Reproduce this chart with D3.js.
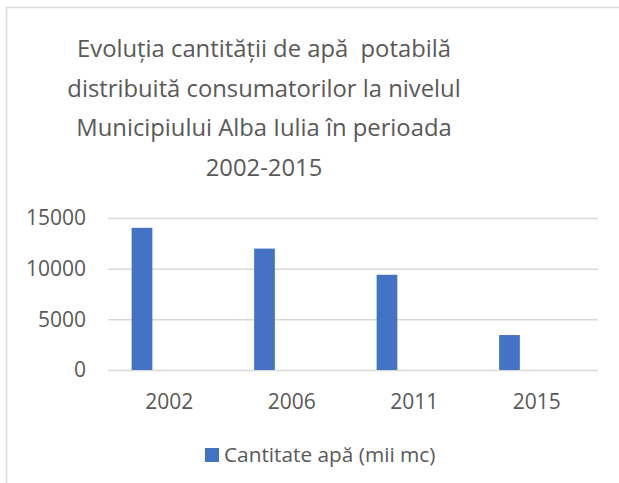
<!DOCTYPE html>
<html>
<head>
<meta charset="utf-8">
<script src="https://cdn.jsdelivr.net/npm/d3@7"></script>
<style>
  html, body { margin: 0; padding: 0; background: #fff; }
  svg { display: block; }
  text { font-family: "Open Sans", "Noto Sans", sans-serif; fill: #595959; }
</style>
</head>
<body>
<svg id="chart" width="619" height="483"></svg>
<script>
// Apă potabilă distribuită, Alba Iulia (mii mc)
const years = ["2002", "2006", "2011", "2015"];
const waterValues = [14030, 11980, 9400, 3450];
const seriesName = "Cantitate apă (mii mc)";
const yTicks = [0, 5000, 10000, 15000];
const titleLines = [
  "Evoluția cantității de apă  potabilă",
  "distribuită consumatorilor la nivelul",
  "Municipiului Alba Iulia în perioada",
  "2002-2015"
];

const W = 619, H = 483;
const svg = d3.select("#chart");
const margin = { left: 108, right: 21, top: 218, bottom: 113 };
const plotW = W - margin.left - margin.right;
const plotH = H - margin.top - margin.bottom;

// chart frame (top and left edges)
svg.append("line").attr("x1", 6.5).attr("x2", W).attr("y1", 7.5).attr("y2", 7.5)
  .attr("stroke", "#d9d9d9").attr("stroke-width", 1.5);
svg.append("line").attr("x1", 6.5).attr("x2", 6.5).attr("y1", 7.5).attr("y2", H)
  .attr("stroke", "#d9d9d9").attr("stroke-width", 1.5);

// title
const title = svg.append("text")
  .attr("text-anchor", "middle")
  .style("font-size", "23.8px");
titleLines.forEach((line, i) => {
  title.append("tspan")
    .attr("x", 264)
    .attr("y", 57 + i * 39.5)
    .attr("xml:space", "preserve")
    .text(line);
});

const g = svg.append("g").attr("transform", `translate(${margin.left},${margin.top})`);

const x = d3.scaleBand().domain(years).range([0, plotW]);
const y = d3.scaleLinear().domain([0, 15000]).range([plotH, 0]);

// gridlines and y labels
const yAxis = d3.axisLeft(y).tickValues(yTicks).tickSize(-plotW).tickPadding(22).tickFormat(d3.format("d"));
const ya = g.append("g").call(yAxis);
ya.select(".domain").remove();
ya.selectAll(".tick line").attr("stroke", "#d9d9d9").attr("stroke-width", 1.5);
ya.selectAll(".tick text").style("font-size", "21px").attr("fill", "#595959");

// x labels
const xAxis = d3.axisBottom(x).tickSize(0).tickPadding(24);
const xa = g.append("g").attr("transform", `translate(0,${plotH})`).call(xAxis);
xa.select(".domain").remove();
xa.selectAll(".tick text").style("font-size", "21px").attr("fill", "#595959");

// bars: the series occupies the first slot of each category group
const barOffset = 0.193, barWidth = 0.169;
g.selectAll("rect.bar")
  .data(years.map((yr, i) => ({ yr, v: waterValues[i] })))
  .join("rect")
  .attr("class", "bar")
  .attr("x", d => x(d.yr) + x.bandwidth() * barOffset)
  .attr("width", x.bandwidth() * barWidth)
  .attr("y", d => y(d.v))
  .attr("height", d => plotH - y(d.v))
  .attr("fill", "#4472c4");

// legend
const lg = svg.append("g").attr("transform", "translate(205,448)");
lg.append("rect").attr("width", 14).attr("height", 14).attr("fill", "#4472c4");
lg.append("text").attr("x", 19).attr("y", 14).style("font-size", "20.8px").text(seriesName);
</script>
</body>
</html>
